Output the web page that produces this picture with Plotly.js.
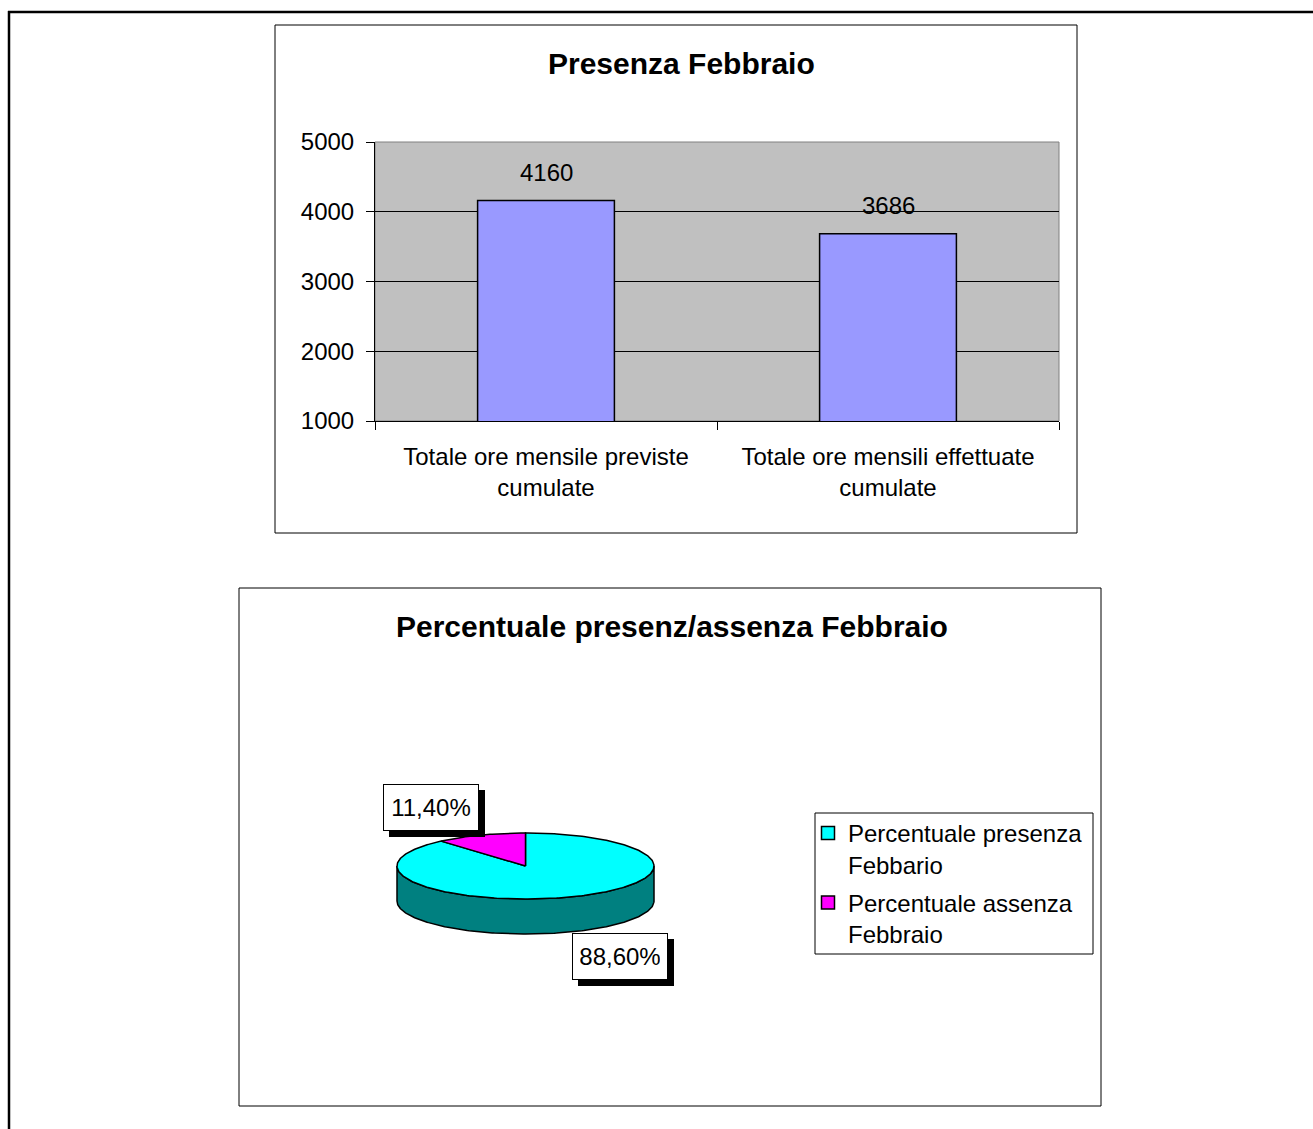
<!DOCTYPE html>
<html>
<head>
<meta charset="utf-8">
<script src="https://cdn.plot.ly/plotly-3.0.1.min.js"></script>
<style>
  html, body { margin: 0; padding: 0; background: #fff; }
  #chart { width: 1313px; height: 1129px; }
</style>
</head>
<body>
<div id="chart"></div>
<script>
// ---------------- DATA ----------------
const barTitle = 'Presenza Febbraio';
const barCategories = ['Totale ore mensile previste<br>cumulate', 'Totale ore mensili effettuate<br>cumulate'];
const barValues = [4160, 3686];
const yTickValues = [1000, 2000, 3000, 4000, 5000];

const pieTitle = 'Percentuale presenz/assenza Febbraio';
const pieLabels = ['Percentuale presenza<br>Febbario', 'Percentuale assenza<br>Febbraio'];
const pieValues = [88.6, 11.4];
const pieValueText = ['88,60%', '11,40%'];
const pieColors = ['#00FFFF', '#FF00FF'];
const pieSideColors = ['#008080', '#800080'];

// ---------------- LAYOUT HELPERS ----------------
const W = 1313, H = 1129;
const FONT = '"Liberation Sans", Arial, sans-serif';
const px = x => x / W;
const py = y => 1 - y / H;

// 3D pie geometry (pixels inside the pie subplot)
const CX = 525.5, CY = 866, RX = 128.5, RY = 33, DEPTH = 35;
function ell(deg, dy) {
  const r = deg * Math.PI / 180;
  return [CX + RX * Math.sin(r), CY - RY * Math.cos(r) + (dy || 0)];
}

const traces = [];

// bar chart
traces.push({
  type: 'bar',
  x: barCategories,
  y: barValues,
  width: 0.4,
  marker: { color: '#9999FF', line: { color: '#000', width: 1.5 } },
  showlegend: false,
  hoverinfo: 'skip',
  xaxis: 'x', yaxis: 'y'
});

// pie built from the values
const total = pieValues.reduce((a, b) => a + b, 0);
const slices = [];
let acc = 0;
pieValues.forEach((v, i) => {
  const sweep = v / total * 360;
  slices.push({ start: acc, end: acc + sweep, i });
  acc += sweep;
});

// side walls (front half only: 90..270 deg clockwise from top)
slices.forEach(s => {
  const a0 = Math.max(s.start, 90), a1 = Math.min(s.end, 270);
  if (a1 <= a0) return;
  const xs = [], ys = [];
  for (let a = a0; a <= a1; a += 1) { const p = ell(a); xs.push(p[0]); ys.push(p[1]); }
  { const p = ell(a1); xs.push(p[0]); ys.push(p[1]); }
  for (let a = a1; a >= a0; a -= 1) { const p = ell(a, DEPTH); xs.push(p[0]); ys.push(p[1]); }
  { const p = ell(a0, DEPTH); xs.push(p[0]); ys.push(p[1]); }
  xs.push(xs[0]); ys.push(ys[0]);
  traces.push({
    type: 'scatter', mode: 'lines', x: xs, y: ys, fill: 'toself',
    fillcolor: pieSideColors[s.i], line: { color: '#000', width: 1.5 },
    showlegend: false, hoverinfo: 'skip', xaxis: 'x2', yaxis: 'y2'
  });
});

// top faces
slices.forEach(s => {
  const xs = [CX], ys = [CY];
  for (let a = s.start; a <= s.end; a += 1) { const p = ell(a); xs.push(p[0]); ys.push(p[1]); }
  { const p = ell(s.end); xs.push(p[0]); ys.push(p[1]); }
  xs.push(CX); ys.push(CY);
  traces.push({
    type: 'scatter', mode: 'lines', x: xs, y: ys, fill: 'toself',
    fillcolor: pieColors[s.i], line: { color: '#000', width: 1.5 },
    showlegend: false, hoverinfo: 'skip', xaxis: 'x2', yaxis: 'y2'
  });
});

// legend entries
pieLabels.forEach((lab, i) => {
  traces.push({
    type: 'scatter', mode: 'markers', x: [null], y: [null], name: lab,
    legendgroup: 'g' + i,
    marker: { symbol: 'square', size: 13, color: pieColors[i], line: { color: '#000', width: 1.5 } },
    xaxis: 'x2', yaxis: 'y2'
  });
});

// annotations
const annotations = [];
annotations.push({
  xref: 'paper', yref: 'paper', x: px(681), y: py(63), xanchor: 'center', yanchor: 'middle',
  text: '<b>' + barTitle + '</b>', showarrow: false, font: { family: FONT, size: 30, color: '#000' }
});
annotations.push({
  xref: 'paper', yref: 'paper', x: px(672), y: py(626), xanchor: 'center', yanchor: 'middle',
  text: '<b>' + pieTitle + '</b>', showarrow: false, font: { family: FONT, size: 30, color: '#000' }
});
barValues.forEach((v, i) => {
  annotations.push({
    xref: 'x', yref: 'y', x: barCategories[i], y: v, xanchor: 'center', yanchor: 'bottom',
    yshift: 13, text: String(v), showarrow: false, font: { family: FONT, size: 24, color: '#000' }
  });
});
slices.forEach(s => {
  const mid = (s.start + s.end) / 2;
  const r = mid * Math.PI / 180;
  const lx = CX + RX * 2.1 * Math.sin(r);
  const ly = CY - RY * 1.9 * Math.cos(r) + (Math.cos(r) < 0 ? DEPTH * 0.9 : 0);
  const base = {
    xref: 'x2', yref: 'y2', x: lx, y: ly, xanchor: 'center', yanchor: 'middle',
    showarrow: false, borderpad: 7, borderwidth: 1, width: 80, height: 31
  };
  // drop shadow box (no text)
  annotations.push(Object.assign({}, base, {
    text: ' ', xshift: 6, yshift: -6, bgcolor: '#000', bordercolor: '#000',
    font: { family: FONT, size: 24, color: '#000' }
  }));
  annotations.push(Object.assign({}, base, {
    text: pieValueText[s.i], bgcolor: '#fff', bordercolor: '#000',
    font: { family: FONT, size: 24, color: '#000' }
  }));
});

// shapes
const shapes = [
  // page frame
  { type: 'line', xref: 'paper', yref: 'paper', x0: px(9), x1: px(9), y0: py(11), y1: py(H), line: { color: '#000', width: 2.5 } },
  { type: 'line', xref: 'paper', yref: 'paper', x0: px(8), x1: px(W), y0: py(12), y1: py(12), line: { color: '#000', width: 2.5 } },
  // chart boxes
  { type: 'rect', xref: 'paper', yref: 'paper', x0: px(275), x1: px(1077), y0: py(25), y1: py(533), line: { color: '#000', width: 1 } },
  { type: 'rect', xref: 'paper', yref: 'paper', x0: px(239), x1: px(1101), y0: py(588), y1: py(1106), line: { color: '#000', width: 1 } },
  // plot area
  { type: 'rect', xref: 'x domain', yref: 'y domain', x0: 0, x1: 1, y0: 0, y1: 1, layer: 'below',
    fillcolor: '#C0C0C0', line: { color: '#808080', width: 1 } },
  // legend box
  { type: 'rect', xref: 'paper', yref: 'paper', x0: px(815), x1: px(1093), y0: py(813), y1: py(954), line: { color: '#000', width: 1 } }
];

const layout = {
  width: W, height: H, autosize: false,
  margin: { l: 0, r: 0, t: 0, b: 0, pad: 0 },
  paper_bgcolor: '#fff', plot_bgcolor: 'rgba(0,0,0,0)',
  font: { family: FONT, size: 24, color: '#000' },
  xaxis: {
    domain: [px(375), px(1059)], type: 'category', range: [-0.5, 1.5],
    showline: true, linecolor: '#000', linewidth: 1,
    ticks: 'outside', tickson: 'boundaries', ticklen: 8, tickcolor: '#000',
    showgrid: false, zeroline: false, fixedrange: true,
    tickfont: { family: FONT, size: 24, color: '#000' }, ticklabelstandoff: 14
  },
  yaxis: {
    domain: [py(421), py(142)], range: [1000, 5000],
    tickvals: yTickValues, ticktext: yTickValues.map(String),
    showline: true, linecolor: '#000', linewidth: 1,
    ticks: 'outside', ticklen: 8, tickcolor: '#000',
    showgrid: true, gridcolor: '#000', gridwidth: 1, zeroline: false, fixedrange: true,
    tickfont: { family: FONT, size: 24, color: '#000' }, ticklabelstandoff: 7
  },
  xaxis2: { domain: [px(239), px(1101)], range: [239, 1101], visible: false, fixedrange: true },
  yaxis2: { domain: [py(1106), py(588)], range: [1106, 588], visible: false, fixedrange: true },
  showlegend: true,
  legend: {
    x: px(808), y: py(811), xanchor: 'left', yanchor: 'top',
    bgcolor: 'rgba(0,0,0,0)', borderwidth: 0, valign: 'top',
    font: { family: FONT, size: 24, color: '#000' },
    traceorder: 'grouped', tracegroupgap: 4
  },
  annotations, shapes
};

Plotly.newPlot('chart', traces, layout, { displayModeBar: false, staticPlot: true });
</script>
</body>
</html>
